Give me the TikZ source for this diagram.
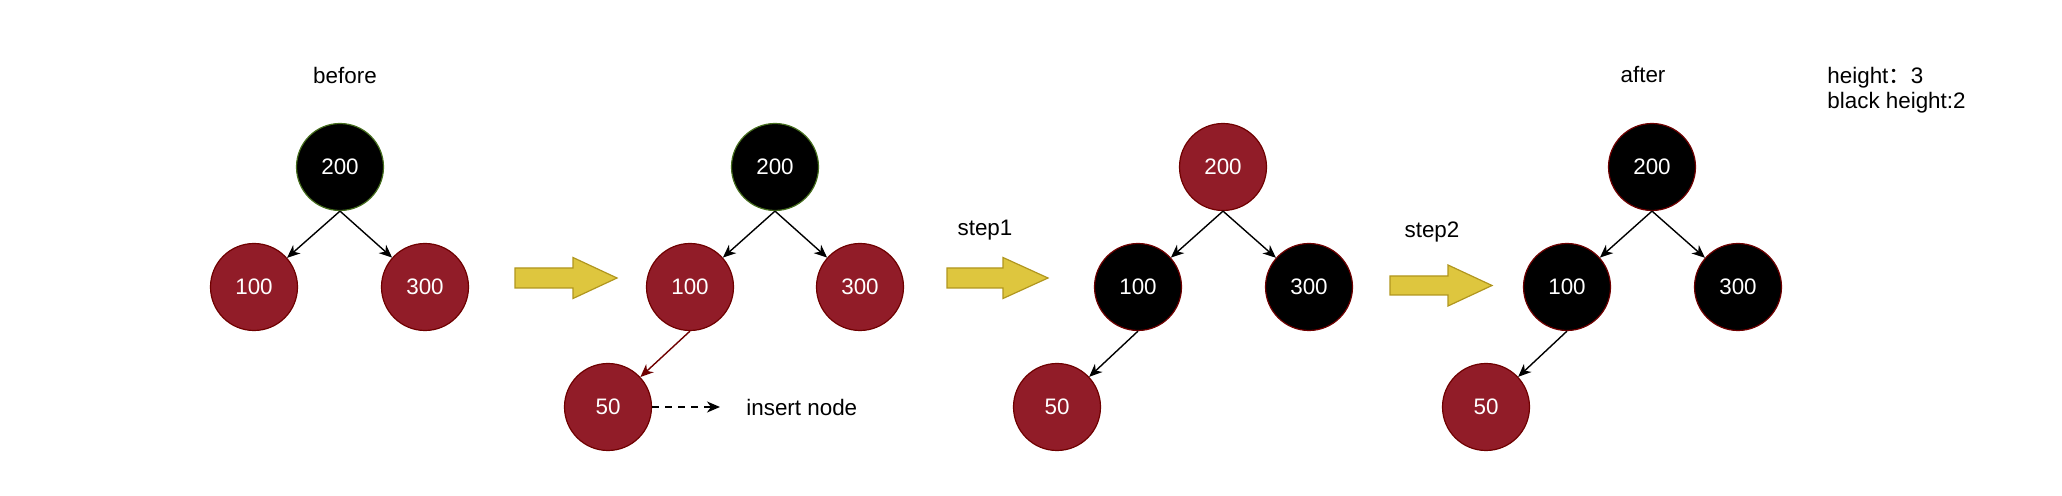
\documentclass[tikz,border=0pt]{standalone}
\usepackage{fontspec}
\setmainfont{Liberation Sans}
\newfontfamily\cjk{Noto Sans CJK SC}
\usetikzlibrary{arrows.meta}
\definecolor{rbred}{RGB}{145,28,40}
\definecolor{rbline}{RGB}{111,0,0}
\definecolor{rbgreen}{RGB}{70,110,30}
\definecolor{yfill}{RGB}{222,198,62}
\definecolor{yline}{RGB}{176,150,30}
\tikzset{
	rednode/.style={circle, fill=rbred, draw=rbline, line width=0.6pt, text=white, minimum size=43.5pt, inner sep=0pt},
	blkgreen/.style={rednode, fill=black, draw=rbgreen},
	blkred/.style={rednode, fill=black, draw=rbline},
	child/.style={-{Stealth[length=6.5pt,width=5.5pt,inset=2pt]}, line width=0.7pt},
	bigarrow/.style={fill=yfill, draw=yline, line width=0.6pt, line join=miter}
}
\begin{document}
\begin{tikzpicture}[x=0.5pt,y=-0.5pt, every node/.style={font=\fontsize{11.2}{13}\selectfont}]
	\useasboundingbox (0,0) rectangle (2062,496);
	% Antes
		\node at (345,75) (before) {before};
		\node[blkgreen] at (340,167) (a200) {200};
		\node[rednode] at (254,287) (a100) {100};
		\node[rednode] at (425,287) (a300) {300};
		\draw[child] (a200.south) -- (a100);
		\draw[child] (a200.south) -- (a300);
	% Flecha 1
		\draw[bigarrow] (515,268) -- (573,268) -- (573,257.5) -- (617,278) -- (573,298.5) -- (573,288) -- (515,288) -- cycle;
	% Insercion
		\node[blkgreen] at (775,167) (b200) {200};
		\node[rednode] at (690,287) (b100) {100};
		\node[rednode] at (860,287) (b300) {300};
		\node[rednode] at (608,407) (b50) {50};
		\draw[child] (b200.south) -- (b100);
		\draw[child] (b200.south) -- (b300);
		\draw[child, rbline] (b100.south) -- (b50);
		\coordinate (ins) at (720,407);
		\draw[child, dash pattern=on 3.5pt off 3pt] (b50.east) -- (ins);
		\node[anchor=west, inner sep=0pt] at (746,407) (insert) {insert node};
	% Flecha 2
		\node at (985,230) (step1) {step1};
		\draw[bigarrow] (947,268) -- (1003,268) -- (1003,257.5) -- (1048,278) -- (1003,298.5) -- (1003,288) -- (947,288) -- cycle;
	% Paso 1
		\node[rednode] at (1223,167) (c200) {200};
		\node[blkred] at (1138,287) (c100) {100};
		\node[blkred] at (1309,287) (c300) {300};
		\node[rednode] at (1057,407) (c50) {50};
		\draw[child] (c200.south) -- (c100);
		\draw[child] (c200.south) -- (c300);
		\draw[child] (c100.south) -- (c50);
	% Flecha 3
		\node at (1432,232) (step2) {step2};
		\draw[bigarrow] (1390,276) -- (1448,276) -- (1448,265) -- (1492,285.5) -- (1448,306) -- (1448,295) -- (1390,295) -- cycle;
	% Despues
		\node at (1643,75) (after) {after};
		\node[blkred] at (1652,167) (d200) {200};
		\node[blkred] at (1567,287) (d100) {100};
		\node[blkred] at (1738,287) (d300) {300};
		\node[rednode] at (1486,407) (d50) {50};
		\draw[child] (d200.south) -- (d100);
		\draw[child] (d200.south) -- (d300);
		\draw[child] (d100.south) -- (d50);
	% Alturas
		\node[anchor=base west, inner sep=0pt] at (1827,84) (height) {height{\cjk ：}3};
		\node[anchor=base west, inner sep=0pt] at (1827,109) (bheight) {black height:2};
\end{tikzpicture}
\end{document}
